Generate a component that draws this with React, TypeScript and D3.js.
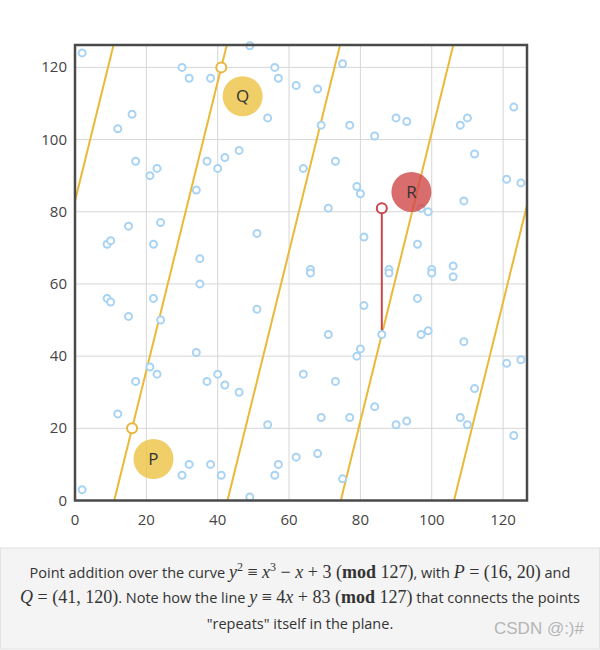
import React from 'react'
import { scaleLinear, line } from 'd3'

// points on y^2 = x^3 - x + 3 (mod 127)
const curveX = [2, 9, 10, 12, 15, 16, 17, 21, 22, 23, 24, 30, 32, 34, 35, 37, 38, 40, 41, 42, 46, 49, 51, 54, 56, 57, 62, 64, 66, 68, 69, 71, 73, 75, 77, 79, 80, 81, 84, 86, 88, 90, 93, 96, 97, 99, 100, 106, 108, 109, 110, 112, 121, 123, 125]
const curveYUpper = [124, 71, 72, 103, 76, 107, 94, 90, 71, 92, 77, 120, 117, 86, 67, 94, 117, 92, 120, 95, 97, 126, 74, 106, 120, 117, 115, 92, 64, 114, 104, 81, 94, 121, 104, 87, 85, 73, 101, 81, 64, 106, 105, 71, 81, 80, 64, 65, 104, 83, 106, 96, 89, 109, 88]
const curveYLower = [3, 56, 55, 24, 51, 20, 33, 37, 56, 35, 50, 7, 10, 41, 60, 33, 10, 35, 7, 32, 30, 1, 53, 21, 7, 10, 12, 35, 63, 13, 23, 46, 33, 6, 23, 40, 42, 54, 26, 46, 63, 21, 22, 56, 46, 47, 63, 62, 23, 44, 21, 31, 38, 18, 39]

// pieces of the line y = 4x + 83 (mod 127) inside the plot: [x1, y1, x2, y2]
const lineSegments = [
  [0, 83, 11, 127],
  [11, 0, 42.75, 127],
  [42.75, 0, 74.5, 127],
  [74.5, 0, 106.25, 127],
  [106.25, 0, 127, 83],
]

const tickValues = [0, 20, 40, 60, 80, 100, 120]

const pointP = [16, 20]
const pointQ = [41, 120]
const pointR = [86, 81]
const pointRNeg = [86, 46]

// label bubbles [x, y, text]
const labelBubbles = [
  [22, 11.5, 'P'],
  [47, 112, 'Q'],
  [94.3, 85.5, 'R'],
]

const W = 600
const H = 650

const App = () => {
  const x = scaleLinear().domain([0, 126.7]).range([75, 527])
  const y = scaleLinear().domain([0, 126.2]).range([500.5, 45])
  const pts = curveX.flatMap((cx, i) => [[cx, curveYUpper[i]], [cx, curveYLower[i]]])
  const seg = line<number[]>().x(d => x(d[0])).y(d => y(d[1]))

  const tickFont = '"Open Sans", "Noto Sans", sans-serif'
  const math = { fontFamily: '"Liberation Serif", "DejaVu Serif", serif', fontSize: 18 }
  const it = { ...math, fontStyle: 'italic' }

  return (
    <svg width={W} height={H} style={{ display: 'block', position: 'absolute', left: 0, top: 0 }}>
      <rect x={0} y={0} width={W} height={H} fill="#fff" />
      <defs>
        <clipPath id="plot">
          <rect x={x(0)} y={y(126.2)} width={x(126.7) - x(0)} height={y(0) - y(126.2)} />
        </clipPath>
      </defs>

      {/* grid */}
      {tickValues.map(t => (
        <g key={'g' + t}>
          <line x1={x(t)} x2={x(t)} y1={y(0)} y2={y(126.2)} stroke="#d6d6d6" strokeWidth={1} />
          <line x1={x(0)} x2={x(126.7)} y1={y(t)} y2={y(t)} stroke="#d6d6d6" strokeWidth={1} />
        </g>
      ))}

      {/* yellow line pieces */}
      <g clipPath="url(#plot)">
        {lineSegments.map((s, i) => (
          <path key={i} d={seg([[s[0], s[1]], [s[2], s[3]]]) || ''} stroke="#ebb93a" strokeWidth={2} fill="none" />
        ))}
      </g>

      {/* red vertical -R to R */}
      <line x1={x(pointR[0])} x2={x(pointRNeg[0])} y1={y(pointR[1])} y2={y(pointRNeg[1])} stroke="#c9474a" strokeWidth={2} />

      {/* curve points */}
      {pts.map((p, i) => (
        <circle key={i} cx={x(p[0])} cy={y(p[1])} r={3.5} fill="#fff" stroke="#a9d3f3" strokeWidth={2} />
      ))}

      {/* P, Q, R markers */}
      {[pointP, pointQ].map((p, i) => (
        <circle key={'pq' + i} cx={x(p[0])} cy={y(p[1])} r={5} fill="#fff" stroke="#e9b53a" strokeWidth={2} />
      ))}
      <circle cx={x(pointR[0])} cy={y(pointR[1])} r={5} fill="#fff" stroke="#c9474a" strokeWidth={2} />

      {/* label bubbles */}
      {labelBubbles.map((b, i) => (
        <g key={'b' + i}>
          <circle cx={x(b[0] as number)} cy={y(b[1] as number)} r={20}
            fill={b[2] === 'R' ? '#cf4747' : '#ecc342'} fillOpacity={0.8} />
          <text x={x(b[0] as number)} y={y(b[1] as number) + 6} textAnchor="middle"
            fontFamily={tickFont} fontSize={17} fill="#333">{b[2]}</text>
        </g>
      ))}

      {/* frame */}
      <rect x={x(0)} y={y(126.2)} width={x(126.7) - x(0)} height={y(0) - y(126.2)} fill="none" stroke="#4a4a4a" strokeWidth={2.5} />

      {/* tick labels */}
      {tickValues.map(t => (
        <text key={'yl' + t} x={67} y={y(t) + 5} textAnchor="end" fontFamily={tickFont} fontSize={15} fill="#444">{t}</text>
      ))}
      {tickValues.map(t => (
        <text key={'xl' + t} x={x(t)} y={525} textAnchor="middle" fontFamily={tickFont} fontSize={15} fill="#444">{t}</text>
      ))}

      {/* caption */}
      <rect x={0.5} y={548} width={W - 1} height={H - 549} fill="#f4f4f4" stroke="#e2e2e2" />
      <text x={300} y={578} textAnchor="middle" fontFamily={tickFont} fontSize={14.5} fill="#333">
        Point addition over the curve{' '}
        <tspan {...it}>y</tspan><tspan {...math} fontSize={12} dy={-7}>2</tspan>
        <tspan {...math} dy={7}> ≡ </tspan><tspan {...it}>x</tspan><tspan {...math} fontSize={12} dy={-7}>3</tspan>
        <tspan {...math} dy={7}> − </tspan><tspan {...it}>x</tspan><tspan {...math}> + 3  (</tspan>
        <tspan {...math} fontWeight="bold">mod</tspan><tspan {...math}>  127)</tspan>
        <tspan>, with </tspan><tspan {...it}>P</tspan><tspan {...math}> = (16, 20)</tspan><tspan> and</tspan>
      </text>
      <text x={300} y={603} textAnchor="middle" fontFamily={tickFont} fontSize={14.5} fill="#333">
        <tspan {...it}>Q</tspan><tspan {...math}> = (41, 120)</tspan>
        <tspan>. Note how the line </tspan>
        <tspan {...it}>y</tspan><tspan {...math}> ≡ 4</tspan><tspan {...it}>x</tspan><tspan {...math}> + 83  (</tspan>
        <tspan {...math} fontWeight="bold">mod</tspan><tspan {...math}>  127)</tspan>
        <tspan> that connects the points</tspan>
      </text>
      <text x={300} y={629} textAnchor="middle" fontFamily={tickFont} fontSize={14.5} fill="#333">
        "repeats" itself in the plane.
      </text>
      <text x={584} y={634} textAnchor="end" fontFamily='"Liberation Sans", Arial, sans-serif' fontSize={17} fill="#b5b5b5">
        CSDN @:)#
      </text>
    </svg>
  )
}

export default App
